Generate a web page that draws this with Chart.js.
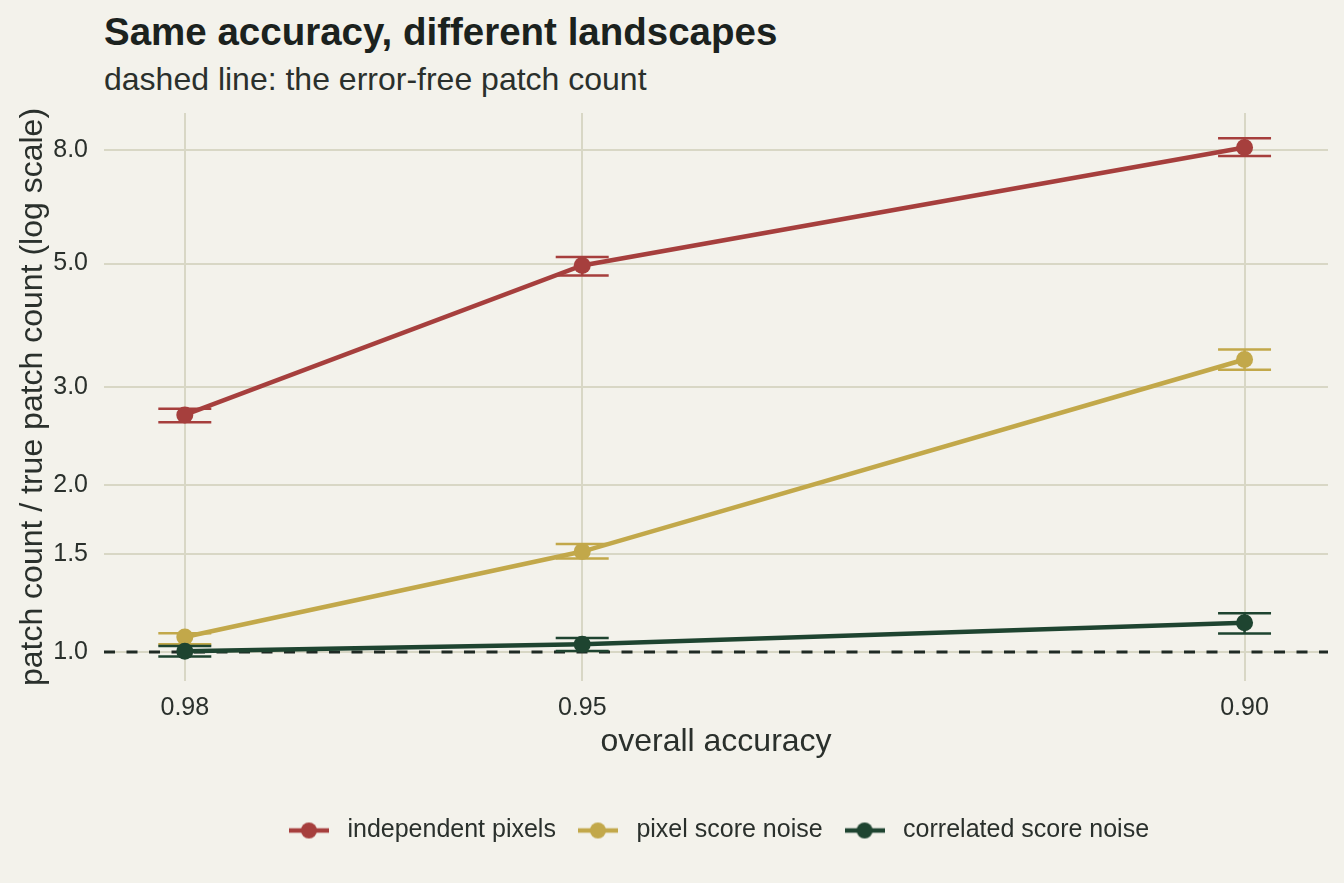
<!DOCTYPE html>
<html>
<head>
<meta charset="utf-8">
<title>Same accuracy, different landscapes</title>
<script src="https://cdn.jsdelivr.net/npm/chart.js@4/dist/chart.umd.min.js"></script>
<style>
    html, body { margin: 0; padding: 0; background: #f3f2eb; }
    .wrap { position: relative; width: 1344px; height: 883px; overflow: hidden; }
    .title {
        position: absolute; left: 104px; top: 13px; margin: 0;
        font: bold 38.5px/38px "Liberation Sans", Arial, sans-serif; color: #1b221e;
    }
    .subtitle {
        position: absolute; left: 104px; top: 63px; margin: 0;
        font: 32px/32px "Liberation Sans", Arial, sans-serif; color: #2a302c;
    }
    #chart { position: absolute; left: 0; top: 0; }
</style>
</head>
<body>
<div class="wrap">
    <h1 class="title">Same accuracy, different landscapes</h1>
    <p class="subtitle">dashed line: the error-free patch count</p>
    <canvas id="chart" width="1344" height="883"></canvas>
</div>
<script>
// Data
const ACCURACY = [0.98, 0.95, 0.90];
const SERIES_NAMES = ['independent pixels', 'pixel score noise', 'correlated score noise'];

const INDEPENDENT = [2.67, 4.96, 8.09];
const INDEPENDENT_LO = [2.59, 4.76, 7.81];
const INDEPENDENT_HI = [2.74, 5.14, 8.40];

const PIXEL_NOISE = [1.064, 1.516, 3.36];
const PIXEL_NOISE_LO = [1.032, 1.473, 3.22];
const PIXEL_NOISE_HI = [1.081, 1.564, 3.50];

const CORRELATED = [1.003, 1.032, 1.129];
const CORRELATED_LO = [0.981, 1.004, 1.080];
const CORRELATED_HI = [1.025, 1.059, 1.174];

const Y_TICKS = [1, 1.5, 2, 3, 5, 8];
const X_TICKS = [0.98, 0.95, 0.90];
const REFERENCE = 1;

// Styling
const COLORS = ['#a63f3d', '#c2a84a', '#1e4430'];
const GRID = '#d8d7c5';
const TEXT = '#2a302c';
const CAP_WIDTH = 0.004; // errorbar width in accuracy units

Chart.defaults.font.family = '"Liberation Sans", Arial, sans-serif';
Chart.defaults.color = TEXT;

function toPoints(values) {
    return ACCURACY.map((x, i) => ({ x: x, y: values[i] }));
}

// little line + dot swatch for the legend
function legendSwatch(color) {
    const c = document.createElement('canvas');
    c.width = 40;
    c.height = 18;
    const g = c.getContext('2d');
    g.strokeStyle = color;
    g.lineWidth = 4.5;
    g.beginPath();
    g.moveTo(0, 9);
    g.lineTo(40, 9);
    g.stroke();
    g.fillStyle = color;
    g.beginPath();
    g.arc(20, 9, 8, 0, Math.PI * 2);
    g.fill();
    return c;
}

const seriesValues = [INDEPENDENT, PIXEL_NOISE, CORRELATED];
const seriesLow = [INDEPENDENT_LO, PIXEL_NOISE_LO, CORRELATED_LO];
const seriesHigh = [INDEPENDENT_HI, PIXEL_NOISE_HI, CORRELATED_HI];

const datasets = SERIES_NAMES.map((name, i) => ({
    label: name,
    data: toPoints(seriesValues[i]),
    errLow: seriesLow[i],
    errHigh: seriesHigh[i],
    borderColor: COLORS[i],
    backgroundColor: COLORS[i],
    borderWidth: 4.5,
    pointRadius: 8.5,
    pointHoverRadius: 8.5,
    pointBorderWidth: 0,
    tension: 0,
    order: SERIES_NAMES.length - i
}));

// dashed reference line + error bars, drawn under the lines
const underlay = {
    id: 'underlay',
    beforeDatasetsDraw(chart) {
        const ctx = chart.ctx;
        const area = chart.chartArea;
        const xs = chart.scales.x;
        const ys = chart.scales.y;

        ctx.save();
        const yRef = ys.getPixelForValue(REFERENCE);
        ctx.strokeStyle = '#1f2a24';
        ctx.lineWidth = 3;
        ctx.setLineDash([11, 11.5]);
        ctx.beginPath();
        ctx.moveTo(area.left, yRef);
        ctx.lineTo(area.right, yRef);
        ctx.stroke();
        ctx.setLineDash([]);

        chart.data.datasets.forEach((ds) => {
            ctx.strokeStyle = ds.borderColor;
            ctx.lineWidth = 2.5;
            ACCURACY.forEach((x, j) => {
                const xc = xs.getPixelForValue(x);
                const x0 = xs.getPixelForValue(x - CAP_WIDTH / 2);
                const x1 = xs.getPixelForValue(x + CAP_WIDTH / 2);
                const yl = ys.getPixelForValue(ds.errLow[j]);
                const yh = ys.getPixelForValue(ds.errHigh[j]);
                ctx.beginPath();
                ctx.moveTo(xc, yl);
                ctx.lineTo(xc, yh);
                ctx.moveTo(x0, yl);
                ctx.lineTo(x1, yl);
                ctx.moveTo(x0, yh);
                ctx.lineTo(x1, yh);
                ctx.stroke();
            });
        });
        ctx.restore();
    }
};

new Chart(document.getElementById('chart'), {
    type: 'line',
    data: { datasets: datasets },
    plugins: [underlay],
    options: {
        responsive: false,
        animation: false,
        layout: {
            padding: { top: 113, left: 0, right: 16, bottom: 30 }
        },
        plugins: {
            title: { display: false },
            tooltip: { enabled: false },
            legend: {
                position: 'bottom',
                fullSize: false,
                labels: {
                    usePointStyle: true,
                    pointStyleWidth: 52,
                    padding: 16,
                    color: TEXT,
                    font: { size: 25 },
                    generateLabels(chart) {
                        return chart.data.datasets.map((ds, i) => ({
                            text: ds.label,
                            fillStyle: ds.borderColor,
                            strokeStyle: ds.borderColor,
                            fontColor: TEXT,
                            lineWidth: 0,
                            pointStyle: legendSwatch(ds.borderColor),
                            hidden: false,
                            datasetIndex: i
                        }));
                    }
                }
            }
        },
        scales: {
            x: {
                type: 'linear',
                reverse: true,
                min: 0.8937,
                max: 0.9861,
                afterBuildTicks(scale) {
                    scale.ticks = X_TICKS.map(v => ({ value: v }));
                },
                afterFit(scale) {
                    scale.height = 121;
                },
                border: { display: false },
                grid: { color: GRID, lineWidth: 2, drawTicks: false },
                ticks: {
                    padding: 12,
                    color: TEXT,
                    font: { size: 25 },
                    callback: v => Number(v).toFixed(2)
                },
                title: {
                    display: true,
                    text: 'overall accuracy',
                    color: TEXT,
                    font: { size: 32 },
                    padding: { top: 0, bottom: 41 }
                }
            },
            y: {
                type: 'logarithmic',
                min: 0.8866,
                max: 9.33,
                afterBuildTicks(scale) {
                    scale.ticks = Y_TICKS.map(v => ({ value: v }));
                },
                afterFit(scale) {
                    scale.width = 104;
                },
                border: { display: false },
                grid: { color: GRID, lineWidth: 2, drawTicks: false },
                ticks: {
                    padding: 16,
                    color: TEXT,
                    font: { size: 25 },
                    callback: v => Number(v).toFixed(1)
                },
                title: {
                    display: true,
                    text: 'patch count / true patch count (log scale)',
                    color: TEXT,
                    font: { size: 32 },
                    padding: { top: 14, bottom: 0 }
                }
            }
        }
    }
});
</script>
</body>
</html>
